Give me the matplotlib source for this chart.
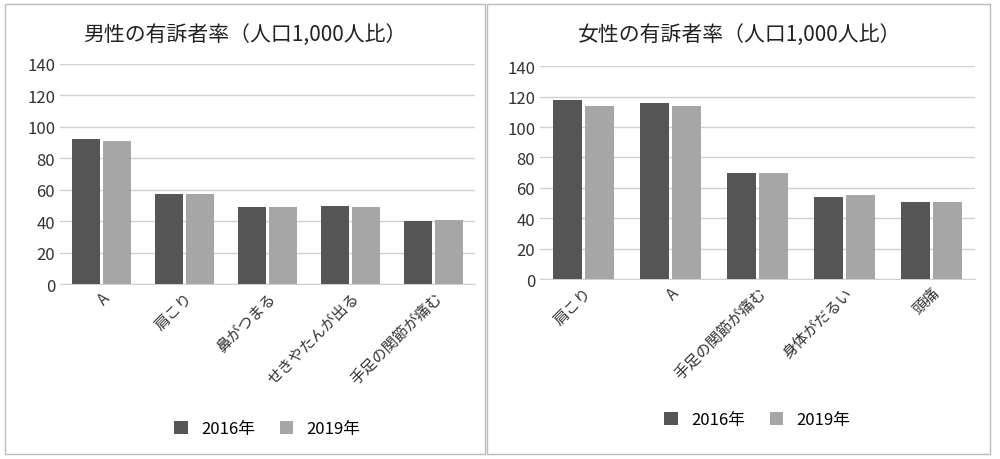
import matplotlib
matplotlib.use('Agg')
import matplotlib.pyplot as plt
from matplotlib.patches import Rectangle
import numpy as np

plt.rcParams['font.family'] = ['Noto Sans CJK JP', 'DejaVu Sans']

male_cats = ['A', '肩こり', '鼻がつまる', 'せきやたんが出る', '手足の関節が痛む']
male_2016 = [92, 57, 49, 50, 40]
male_2019 = [91, 57, 49, 49, 41]

female_cats = ['肩こり', 'A', '手足の関節が痛む', '身体がだるい', '頭痛']
female_2016 = [118, 116, 70, 54, 51]
female_2019 = [114, 114, 70, 55, 51]

c16 = '#555555'
c19 = '#a6a6a6'

fig = plt.figure(figsize=(10, 4.6), dpi=100)
fig.patch.set_facecolor('white')
for x0, w in [(0.005, 0.48), (0.487, 0.503)]:
    fig.patches.append(Rectangle((x0, 0.01), w, 0.98, transform=fig.transFigure,
                                 fill=False, edgecolor='#bbbbbb', lw=1))

def panel(rect, cats, v16, v19, title, tx):
    ax = fig.add_axes(rect)
    x = np.arange(len(cats))
    bw = 0.33
    ax.bar(x - bw/2 - 0.02, v16, bw, color=c16, label='2016年', zorder=3)
    ax.bar(x + bw/2 + 0.02, v19, bw, color=c19, label='2019年', zorder=3)
    ax.set_ylim(0, 140)
    ax.set_yticks(range(0, 141, 20))
    ax.set_xlim(-0.5, len(cats) - 0.5)
    ax.grid(axis='y', color='#d0d0d0', lw=1, zorder=0)
    for s in ax.spines.values():
        s.set_visible(False)
    ax.spines['bottom'].set_visible(True)
    ax.spines['bottom'].set_color('#d0d0d0')
    ax.tick_params(length=0, labelsize=12, colors='#333333')
    ax.set_xticks(x)
    ax.set_xticklabels(cats, rotation=45, ha='right', rotation_mode='anchor', fontsize=11)
    fig.text(tx, 0.925, title, ha='center', va='center', fontsize=15, color='#222222')
    ax.legend(loc='upper center', bbox_to_anchor=(0.5, -0.55), ncol=2, frameon=False,
              fontsize=12, handlelength=0.8, handleheight=0.8, columnspacing=1.5)
    return ax

panel([0.06, 0.38, 0.415, 0.479], male_cats, male_2016, male_2019,
      '男性の有訴者率（人口1,000人比）', 0.245)
panel([0.54, 0.391, 0.435, 0.463], female_cats, female_2016, female_2019,
      '女性の有訴者率（人口1,000人比）', 0.74)

fig.savefig('out.png', dpi=100)
